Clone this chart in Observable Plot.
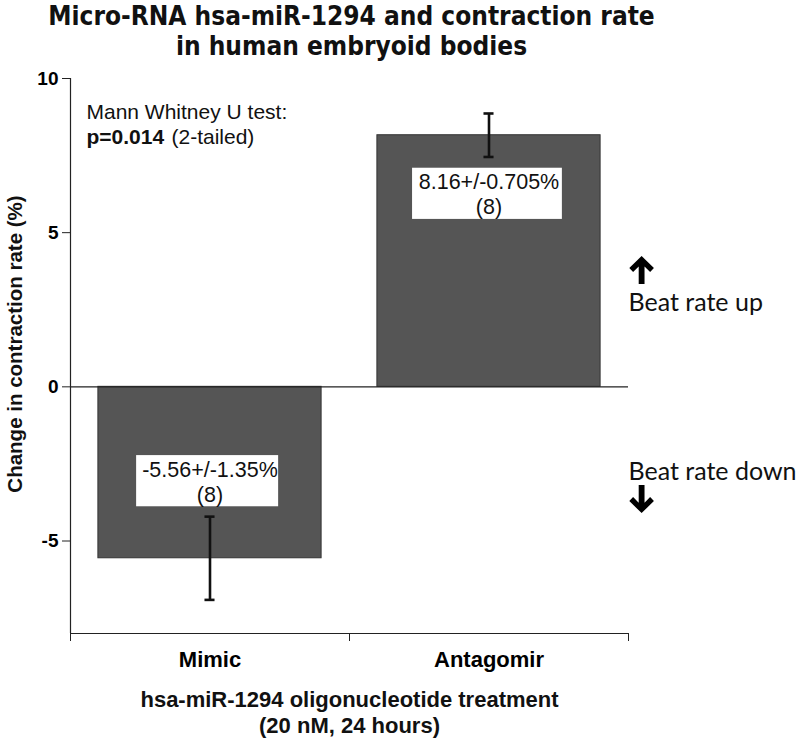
<!DOCTYPE html>
<html>
<head>
<meta charset="utf-8">
<script src="https://cdn.jsdelivr.net/npm/d3@7"></script>
<script src="https://cdn.jsdelivr.net/npm/@observablehq/plot@0.6"></script>
<style>
  html, body { margin: 0; padding: 0; background: #fff; }
  #chart { width: 800px; height: 741px; }
</style>
</head>
<body>
<div id="chart"></div>
<script>
const categories = ["Mimic", "Antagomir"];
const means = [-5.56, 8.16];
const sems = [1.35, 0.705];
const ns = [8, 8];
const yTicks = [-5, 0, 5, 10];
const titleLines = ["Micro-RNA hsa-miR-1294 and contraction rate", "in human embryoid bodies"];
const yLabel = "Change in contraction rate (%)";
const xLabelLines = ["hsa-miR-1294 oligonucleotide treatment", "(20 nM, 24 hours)"];
const testLine1 = "Mann Whitney U test:";
const testP = "p=0.014";
const testTail = "(2-tailed)";
const upText = "Beat rate up";
const downText = "Beat rate down";

const data = categories.map((c, i) => ({
  c, i, mean: means[i], sem: sems[i], n: ns[i],
  label: `${means[i]}+/-${sems[i]}%\n(${ns[i]})`
}));

const sans = "'Liberation Sans', Arial, sans-serif";
const narrow = "'Liberation Sans Narrow', 'Arial Narrow', 'DejaVu Sans Condensed', sans-serif";
const calib = "Lato, 'Open Sans', sans-serif";
const boxCenter = d => d.mean > 0 ? d.mean - 1.9 : d.mean + 2.5;

// annotation arrows (up: beat rate up, down: beat rate down)
const arrows = [
  { x: 2.047, y: 3.79, rotate: 0 },
  { x: 2.047, y: -3.64, rotate: 180 }
];
// bold chevron arrow symbol (points up), drawn in units of r
const arrowSymbol = {
  draw(ctx, size) {
    const r = Math.sqrt(size / Math.PI);
    const k = r / 12.5;
    const pts = [[0, -12.5], [11, -1.8], [7.6, 1.8], [2.6, -3.2], [2.6, 12.5], [-2.6, 12.5], [-2.6, -3.2], [-7.6, 1.8], [-11, -1.8]];
    ctx.moveTo(pts[0][0] * k, pts[0][1] * k);
    for (let j = 1; j < pts.length; j++) ctx.lineTo(pts[j][0] * k, pts[j][1] * k);
    ctx.closePath();
  }
};

const plot = Plot.plot({
  width: 800,
  height: 741,
  marginTop: 78,
  marginBottom: 108,
  marginLeft: 70,
  marginRight: 172,
  style: { fontFamily: sans, background: "#fff", overflow: "visible" },
  x: { type: "linear", domain: [0, 2] },
  y: { domain: [-8, 10] },
  marks: [
    // bars
    Plot.rectY(data, { x1: d => d.i + 0.1, x2: d => d.i + 0.9, y1: 0, y2: "mean", fill: "#555555", stroke: "#333", strokeWidth: 1 }),
    // zero line
    Plot.ruleY([0], { stroke: "#222", strokeWidth: 1.2 }),
    // error bars
    Plot.ruleX(data, { x: d => d.i + 0.5, y1: d => d.mean - d.sem, y2: d => d.mean + d.sem, stroke: "#111", strokeWidth: 2.6 }),
    Plot.ruleY(data, { y: d => d.mean - d.sem, x1: d => d.i + 0.482, x2: d => d.i + 0.518, stroke: "#111", strokeWidth: 2.6 }),
    Plot.ruleY(data, { y: d => d.mean + d.sem, x1: d => d.i + 0.482, x2: d => d.i + 0.518, stroke: "#111", strokeWidth: 2.6 }),
    // label boxes
    Plot.rect(data, { x1: d => d.i + (d.mean > 0 ? 0.226 : 0.237), x2: d => d.i + (d.mean > 0 ? 0.763 : 0.746), y1: d => boxCenter(d) - 0.83, y2: d => boxCenter(d) + 0.83, fill: "white" }),
    Plot.text(data, { x: d => d.i + 0.5, y: d => boxCenter(d), text: "label", fontSize: 21.5, lineHeight: 1.16, fill: "#111", fontFamily: sans }),
    // axes lines
    Plot.ruleX([0], { stroke: "#222", strokeWidth: 1.2 }),
    Plot.ruleY([-8], { stroke: "#222", strokeWidth: 1.2 }),
    Plot.axisY({ ticks: yTicks, tickSize: 8, tickPadding: 4, tickFormat: d => String(d), fontSize: 19, fontWeight: "bold", label: null, stroke: "#222" }),
    Plot.text([yLabel], { frameAnchor: "left", dx: -55, dy: -12, rotate: -90, textAnchor: "middle", fontSize: 20.5, fontWeight: "bold", fill: "#111" }),
    Plot.axisX({ ticks: [0, 1, 2], tickSize: 8, tickFormat: () => "", label: null, stroke: "#222" }),
    Plot.axisX({ ticks: [0.5, 1.5], tickSize: 0, tickPadding: 18, tickFormat: d => categories[Math.floor(d)], fontSize: 22, fontWeight: "bold", label: null }),
    // x label
    Plot.text([xLabelLines.join("\n")], { frameAnchor: "bottom", dy: 56, lineAnchor: "top", fontSize: 22, fontWeight: "bold", lineHeight: 1.15, fill: "#111" }),
    // title
    Plot.text([titleLines.join("\n")], { frameAnchor: "top", dx: 2, dy: -75, lineAnchor: "top", fontSize: 26, fontWeight: "bold", lineHeight: 1.15, fill: "#111", fontFamily: narrow }),
    // test annotation
    Plot.text([testLine1], { frameAnchor: "top-left", dx: 16, dy: 26, lineAnchor: "top", textAnchor: "start", fontSize: 21, fill: "#111" }),
    Plot.text([testP], { frameAnchor: "top-left", dx: 16, dy: 51, lineAnchor: "top", textAnchor: "start", fontSize: 21, fontWeight: "bold", fill: "#111" }),
    Plot.text([testTail], { frameAnchor: "top-left", dx: 101, dy: 51, lineAnchor: "top", textAnchor: "start", fontSize: 21, fill: "#111" }),
    // right annotations
    Plot.dot(arrows, { x: "x", y: "y", r: 14, symbol: arrowSymbol, rotate: "rotate", fill: "#000", stroke: null }),
    Plot.text([upText], { x: 2, y: 2.72, dx: 0, textAnchor: "start", fontSize: 25, fill: "#111", fontFamily: calib }),
    Plot.text([downText], { x: 2, y: -2.75, dx: 0, textAnchor: "start", fontSize: 25, fill: "#111", fontFamily: calib })
  ]
});
document.getElementById("chart").appendChild(plot);
</script>
</body>
</html>
